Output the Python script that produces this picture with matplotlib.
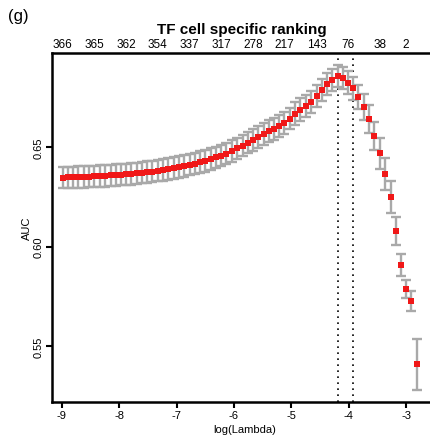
import matplotlib
matplotlib.use("Agg")
import matplotlib.pyplot as plt

plt.rcParams['font.family'] = ['Liberation Sans', 'DejaVu Sans']
plt.rcParams['axes.unicode_minus'] = False

# cross-validated AUC along the lambda path
log_lambda = [-8.98, -8.89, -8.80, -8.71, -8.61, -8.52, -8.43, -8.34, -8.25, -8.15,
              -8.06, -7.97, -7.88, -7.79, -7.69, -7.60, -7.51, -7.42, -7.33, -7.23,
              -7.14, -7.05, -6.96, -6.87, -6.77, -6.68, -6.59, -6.50, -6.40, -6.31,
              -6.22, -6.13, -6.04, -5.94, -5.85, -5.76, -5.67, -5.58, -5.48, -5.39,
              -5.30, -5.21, -5.12, -5.02, -4.93, -4.84, -4.75, -4.66, -4.56, -4.47,
              -4.38, -4.29, -4.19, -4.10, -4.01, -3.92, -3.83, -3.73, -3.64, -3.55,
              -3.46, -3.37, -3.27, -3.18, -3.09, -3.00, -2.91, -2.81]
auc = [0.6347, 0.6348, 0.6349, 0.6350, 0.6351, 0.6352, 0.6353, 0.6355, 0.6356, 0.6358,
       0.6360, 0.6362, 0.6364, 0.6366, 0.6369, 0.6372, 0.6375, 0.6378, 0.6382, 0.6386,
       0.6390, 0.6395, 0.6400, 0.6406, 0.6412, 0.6418, 0.6425, 0.6432, 0.6440, 0.6449,
       0.6458, 0.6468, 0.6481, 0.6495, 0.6509, 0.6523, 0.6537, 0.6551, 0.6566, 0.6580,
       0.6594, 0.6609, 0.6623, 0.6645, 0.6670, 0.6690, 0.6707, 0.6729, 0.6760, 0.6788,
       0.6817, 0.6839, 0.6861, 0.6848, 0.6826, 0.6797, 0.6755, 0.6704, 0.6641, 0.6556,
       0.6471, 0.6366, 0.6248, 0.6079, 0.5905, 0.5787, 0.5724, 0.5407]
auc_sd = [0.0054, 0.0054, 0.0054, 0.0054, 0.0054, 0.0054, 0.0054, 0.0054, 0.0054, 0.0054,
          0.0054, 0.0054, 0.0054, 0.0054, 0.0054, 0.0054, 0.0054, 0.0054, 0.0054, 0.0054,
          0.0054, 0.0054, 0.0054, 0.0054, 0.0054, 0.0054, 0.0054, 0.0054, 0.0054, 0.0054,
          0.0054, 0.0054, 0.0054, 0.0054, 0.0054, 0.0054, 0.0054, 0.0054, 0.0055, 0.0055,
          0.0055, 0.0055, 0.0055, 0.0055, 0.0056, 0.0056, 0.0056, 0.0056, 0.0056, 0.0056,
          0.0056, 0.0056, 0.0056, 0.0056, 0.0057, 0.0058, 0.0060, 0.0065, 0.0070, 0.0072,
          0.0078, 0.0080, 0.0080, 0.0072, 0.0055, 0.0047, 0.0050, 0.0129]

# number of nonzero coefficients shown on the top axis
nz_idx = [0, 6, 12, 18, 24, 30, 36, 42, 48, 54, 60, 65]
nz_labels = ['366', '365', '362', '354', '337', '317', '278', '217', '143', '76', '38', '2']

idx_min = 52
idx_1se = 55

fig = plt.figure(figsize=(4.30, 4.39), dpi=100)
ax = fig.add_axes([52 / 430, 1 - 403 / 439, (437.6 - 52) / 430, (403 - 54) / 439])

ax.errorbar(log_lambda, auc, yerr=auc_sd, fmt='none', ecolor='#a9a9a9',
            elinewidth=1.7, capsize=3.8, capthick=1.7, zorder=2)
ax.plot(log_lambda, auc, 's', color='#f01818', markersize=3.8, markeredgewidth=0, zorder=3)

for i in (idx_min, idx_1se):
    ax.axvline(log_lambda[i], color='black', lw=1.2, ls=(0, (1, 2.6)), zorder=1)

ax.set_xlim(-9.17, -2.45)
ax.set_ylim(0.5217, 0.6975)
ax.set_xticks([-9, -8, -7, -6, -5, -4, -3])
ax.set_yticks([0.55, 0.60, 0.65])
ax.set_yticklabels(['0.55', '0.60', '0.65'], rotation=90, va='center')
ax.tick_params(axis='both', labelsize=8, width=1.5, length=4, pad=2)
for s in ax.spines.values():
    s.set_linewidth(1.8)
ax.set_xlabel('log(Lambda)', fontsize=8, labelpad=3)
ax.set_ylabel('AUC', fontsize=8, labelpad=1)

ax2 = ax.twiny()
ax2.set_xlim(ax.get_xlim())
ax2.set_xticks([log_lambda[i] for i in nz_idx])
ax2.set_xticklabels(nz_labels)
ax2.tick_params(axis='x', length=0, labelsize=8.5, pad=2)
for s in ax2.spines.values():
    s.set_visible(False)

fig.text(242 / 430, 1 - 30 / 439, 'TF cell specific ranking', ha='center', va='center',
         fontsize=11, fontweight='bold')
fig.text(8 / 430, 1 - 17 / 439, '(g)', ha='left', va='center', fontsize=12)

fig.savefig('out.png', dpi=100)
